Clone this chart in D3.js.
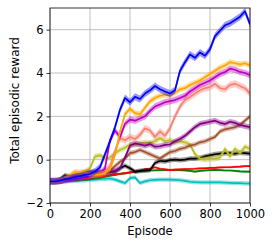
<!DOCTYPE html>
<html><head><meta charset="utf-8">
<script src="https://cdn.jsdelivr.net/npm/d3@7"></script>
<style>body{margin:0;background:#fff}svg{display:block}text{font-family:"DejaVu Sans",sans-serif}</style>
</head><body><svg id="c" width="274" height="248"></svg>
<script>
const episodes = d3.range(0, 1001, 25);
const xTicks = [0, 200, 400, 600, 800, 1000];
const yTicks = [-2, 0, 2, 4, 6];
const seriesNames = ["cyan","green","red","black","olive","brown","purple","salmon","magenta","orange","blue"];
const cyan = [-1.00,-1.00,-1.00,-1.00,-0.99,-0.98,-0.97,-0.95,-0.93,-0.92,-0.90,-0.88,-0.87,-0.92,-1.00,-1.08,-0.85,-0.82,-1.08,-1.00,-0.95,-0.93,-0.92,-0.92,-0.92,-0.93,-0.95,-0.98,-1.02,-1.04,-1.05,-1.05,-1.05,-1.05,-1.05,-1.06,-1.07,-1.08,-1.08,-1.10,-1.10];
const green = [-1.00,-1.00,-0.99,-0.98,-0.97,-0.96,-0.95,-0.93,-0.90,-0.87,-0.83,-0.78,-0.74,-0.70,-0.66,-0.63,-0.60,-0.57,-0.54,-0.52,-0.50,-0.49,-0.48,-0.48,-0.47,-0.48,-0.48,-0.50,-0.52,-0.55,-0.52,-0.50,-0.48,-0.47,-0.48,-0.50,-0.50,-0.52,-0.54,-0.55,-0.55];
const red = [-1.00,-1.00,-0.98,-0.95,-0.93,-0.90,-0.88,-0.86,-0.83,-0.80,-0.78,-0.74,-0.72,-0.68,-0.65,-0.62,-0.58,-0.55,-0.50,-0.45,-0.42,-0.35,-0.42,-0.45,-0.48,-0.46,-0.45,-0.44,-0.43,-0.42,-0.40,-0.40,-0.38,-0.38,-0.36,-0.35,-0.35,-0.33,-0.32,-0.30,-0.30];
const black = [-1.00,-1.00,-0.90,-0.72,-0.78,-0.80,-0.75,-0.72,-0.70,-0.68,-0.65,-0.62,-0.58,-0.55,-0.40,-0.28,-0.40,-0.55,-0.52,-0.50,-0.48,-0.15,-0.05,-0.08,-0.02,0.00,-0.02,0.00,0.05,0.05,0.08,0.15,0.20,0.25,0.28,0.30,0.30,0.28,0.32,0.30,0.28];
const olive = [-1.00,-1.00,-0.97,-0.90,-0.85,-0.75,-0.65,-0.55,-0.40,0.15,0.20,0.05,0.10,0.30,0.45,0.55,0.70,0.68,0.75,0.80,0.78,0.85,1.00,0.85,0.90,0.80,0.85,0.80,0.70,0.25,0.05,0.00,0.05,0.05,0.10,0.50,0.15,0.50,0.30,0.60,0.50];
const brown = [-1.00,-1.00,-0.97,-0.88,-0.80,-0.72,-0.65,-0.58,-0.55,-0.55,-0.58,-0.56,-0.50,-0.30,-0.10,0.05,0.30,0.35,0.45,0.35,0.25,0.15,0.05,0.20,0.35,0.40,0.50,0.55,0.65,0.70,0.80,0.85,0.95,1.05,1.30,1.40,1.45,1.50,1.60,1.80,2.00];
const purple = [-1.00,-1.00,-0.98,-0.90,-0.85,-0.80,-0.75,-0.70,-0.65,-0.60,-0.58,-0.57,-0.55,-0.52,-0.40,0.10,0.65,0.75,0.70,0.65,0.72,0.60,0.62,0.68,0.70,0.85,0.95,1.10,1.30,1.50,1.65,1.70,1.75,1.80,1.70,1.65,1.75,1.70,1.60,1.55,1.50];
const salmon = [-1.00,-1.00,-0.98,-0.92,-0.88,-0.80,-0.78,-0.72,-0.70,-0.68,-0.62,-0.55,-0.30,0.40,1.00,0.90,1.05,0.95,1.15,1.45,1.35,1.05,1.30,1.10,1.45,2.00,2.45,2.75,2.90,3.05,3.20,3.30,3.35,3.50,3.30,3.25,3.45,3.50,3.40,3.30,3.05];
const magenta = [-1.00,-1.00,-0.98,-0.95,-0.92,-0.88,-0.85,-0.80,-0.75,-0.70,-0.65,-0.40,0.90,1.35,1.05,1.65,1.85,1.80,1.90,2.00,2.25,2.45,2.55,2.65,2.70,2.75,2.85,2.95,3.15,3.30,3.45,3.55,3.65,3.80,3.95,4.05,4.20,4.15,4.05,4.00,3.90];
const orange = [-1.00,-1.00,-0.98,-0.85,-0.72,-0.55,-0.60,-0.55,-0.72,-0.70,-0.68,-0.62,-0.45,0.20,1.30,2.10,2.35,2.15,2.10,2.40,2.70,2.85,2.95,3.00,2.95,3.10,3.25,3.30,3.45,3.55,3.65,3.80,3.95,4.10,4.25,4.35,4.50,4.45,4.40,4.45,4.35];
const blue = [-1.00,-1.00,-0.97,-0.90,-0.86,-0.80,-0.76,-0.70,-0.66,-0.55,-0.35,0.25,0.85,1.50,2.30,2.85,2.65,2.90,2.80,3.05,3.20,3.40,3.25,3.15,3.05,3.20,4.10,4.50,4.85,4.70,4.95,4.80,5.10,5.70,5.95,6.20,6.30,6.45,6.60,6.85,6.25];
const spreads = [0.10, 0.05, 0.05, 0.11, 0.13, 0.11, 0.13, 0.16, 0.15, 0.13, 0.16];

const values = [cyan, green, red, black, olive, brown, purple, salmon, magenta, orange, blue];
const colors = {cyan:"#00bfbf", green:"#008000", red:"#ff0000", black:"#000000", olive:"#bcbd22", brown:"#a0522d", purple:"#800080", salmon:"#fa8072", magenta:"#bf00bf", orange:"#ffa500", blue:"#0000ff"};

const L = 50, R = 250, T = 8, B = 203;
const svg = d3.select("#c");
const x = d3.scaleLinear().domain([0, 1000]).range([L, R]);
const y = d3.scaleLinear().domain([-2, 7]).range([B, T]);

const grid = svg.append("g");
xTicks.forEach(t => grid.append("line").attr("x1", x(t)).attr("x2", x(t)).attr("y1", T).attr("y2", B).attr("stroke", "#b0b0b0").attr("stroke-width", 0.8));
yTicks.forEach(t => grid.append("line").attr("x1", L).attr("x2", R).attr("y1", y(t)).attr("y2", y(t)).attr("stroke", "#b0b0b0").attr("stroke-width", 0.8));

svg.append("clipPath").attr("id", "clip").append("rect").attr("x", L).attr("y", T).attr("width", R - L).attr("height", B - T);
const plot = svg.append("g").attr("clip-path", "url(#clip)");

const area = d3.area().x(d => x(d.e)).y0(d => y(d.v - d.s)).y1(d => y(d.v + d.s));
const line = d3.line().x(d => x(d.e)).y(d => y(d.v));

seriesNames.forEach((name, i) => {
  const pts = episodes.map((e, j) => ({e, v: values[i][j], s: spreads[i]}));
  plot.append("path").attr("d", area(pts)).attr("fill", colors[name]).attr("fill-opacity", 0.4);
  plot.append("path").attr("d", line(pts)).attr("fill", "none").attr("stroke", colors[name]).attr("stroke-width", 1.7).attr("stroke-linejoin", "round");
});

const xAxis = svg.append("g").attr("transform", `translate(0,${B})`).call(d3.axisBottom(x).tickValues(xTicks).tickSize(3.5).tickPadding(3).tickFormat(d3.format("d")));
const yAxis = svg.append("g").attr("transform", `translate(${L},0)`).call(d3.axisLeft(y).tickValues(yTicks).tickSize(3.5).tickPadding(3).tickFormat(d => d < 0 ? "\u2212" + Math.abs(d) : d));
[xAxis, yAxis].forEach(a => {
  a.select(".domain").remove();
  a.selectAll("text").attr("font-size", 11.5).attr("fill", "#000").attr("font-family", "DejaVu Sans");
  a.selectAll("line").attr("stroke", "#000").attr("stroke-width", 0.8);
});
svg.append("rect").attr("x", L).attr("y", T).attr("width", R - L).attr("height", B - T).attr("fill", "none").attr("stroke", "#000").attr("stroke-width", 0.8);

svg.append("text").attr("x", (L + R) / 2).attr("y", 235).attr("text-anchor", "middle").attr("font-size", 11.6).text("Episode");
svg.append("text").attr("transform", `translate(18.5,${(T + B) / 2 - 5}) rotate(-90)`).attr("text-anchor", "middle").attr("font-size", 12).text("Total episodic reward");
</script></body></html>
